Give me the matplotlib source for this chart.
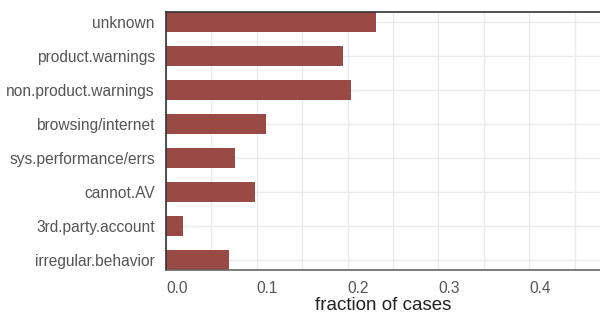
import numpy as np
import matplotlib
matplotlib.use("Agg")
import matplotlib.pyplot as plt
from matplotlib.ticker import MultipleLocator

plt.rcParams['font.family'] = ['Liberation Sans', 'DejaVu Sans']

categories = ['unknown', 'product.warnings', 'non.product.warnings',
              'browsing/internet', 'sys.performance/errs', 'cannot.AV',
              '3rd.party.account', 'irregular.behavior']
fractions = [0.231, 0.195, 0.204, 0.110, 0.076, 0.098, 0.019, 0.069]
xticks = [0.0, 0.1, 0.2, 0.3, 0.4]

fig = plt.figure(figsize=(6, 3.16), dpi=100)
ax = fig.add_axes([166/600, 46/316, 434/600, 258/316])

ypos = np.arange(len(categories))
ax.barh(ypos, fractions, height=0.6, color='#994a45', zorder=2)

ax.set_ylim(len(categories) - 0.7, -0.3)
ax.set_xlim(0, 0.478)
ax.set_yticks(ypos)
ax.set_yticklabels(categories)
ax.set_xticks(xticks)
ax.set_xticklabels(['%.1f' % v for v in xticks], ha='left')
ax.xaxis.set_minor_locator(MultipleLocator(0.05))

ax.grid(True, which='both', axis='x', color='#ebebeb', lw=1, zorder=0)
ax.grid(True, axis='y', color='#ebebeb', lw=1, zorder=0)
ax.set_axisbelow(True)

ax.tick_params(axis='both', which='both', length=0, labelsize=11.2, labelcolor='#555555')
ax.tick_params(axis='y', pad=8)
ax.tick_params(axis='x', pad=8)

ax.spines['right'].set_visible(False)
ax.spines['top'].set_color('#333333')
ax.spines['left'].set_color('#333333')
ax.spines['bottom'].set_color('#666666')
for s in ax.spines.values():
    s.set_linewidth(1.2)

ax.set_xlabel('fraction of cases', fontsize=13.5, color='#222222', labelpad=1)

fig.savefig('out.png', dpi=100)
